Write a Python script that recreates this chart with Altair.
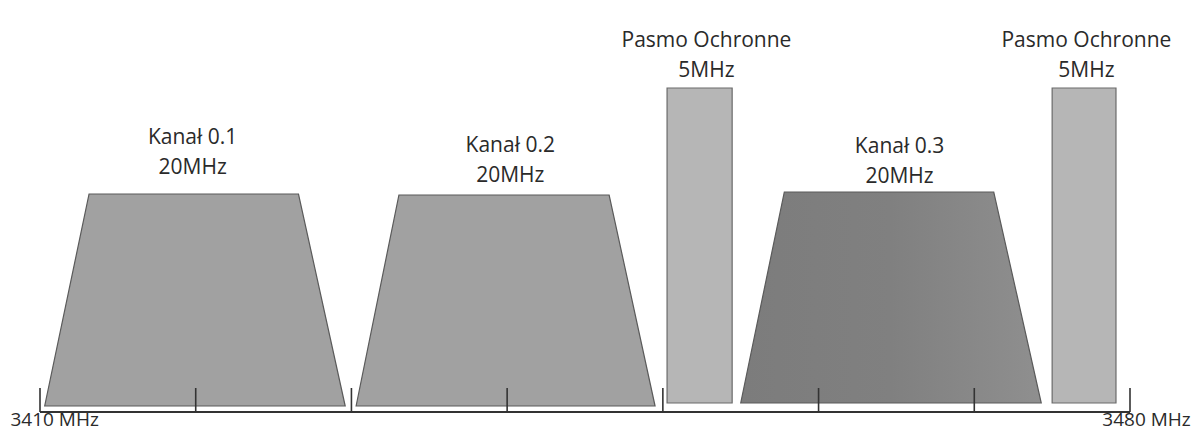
import altair as alt
import pandas as pd

# ---- data (frequencies in MHz, levels in relative height units) ----
chan_names = ["Kanał 0.1", "Kanał 0.2", "Kanał 0.3"]
chan_bottom_left = [3410.3, 3430.3, 3455.0]
chan_top_left = [3413.15, 3433.05, 3457.8]
chan_top_right = [3426.6, 3446.55, 3471.25]
chan_bottom_right = [3429.6, 3449.5, 3474.3]
chan_top = [218, 217, 220]
chan_bottom = [6, 6, 9]
chan_fill = ["#a1a1a1", "#a1a1a1", "#858585"]

guard_start = [3450.27, 3475.0]
guard_end = [3454.45, 3479.1]
guard_top = [324, 324]
guard_bottom = [9, 9]

tick_freqs = [3410, 3420, 3430, 3440, 3450, 3460, 3470, 3480]
tick_height = 24

label_text = ["Kanał 0.1\n20MHz", "Kanał 0.2\n20MHz", "Kanał 0.3\n20MHz",
              "Pasmo Ochronne\n5MHz", "Pasmo Ochronne\n5MHz"]
label_x = [3419.8, 3440.2, 3465.2, 3452.8, 3477.2]
label_y = [274, 266, 265, 371, 371]

edge_text = ["3410 MHz", "3480 MHz"]
edge_x = [3408.1, 3483.9]
edge_y = [-14, -14]
edge_align = ["left", "right"]

FONT = "Open Sans"

xs = alt.Scale(domain=[3410, 3480], range=[32, 1122], nice=False, zero=False)
ys = alt.Scale(domain=[-19, 404], range=[423, 0], nice=False, zero=False)

layers = []

# channel trapezoids
for i in range(3):
    pts = pd.DataFrame({
        "f": [chan_bottom_left[i], chan_top_left[i], chan_top_right[i], chan_bottom_right[i]],
        "lvl": [chan_bottom[i], chan_top[i], chan_top[i], chan_bottom[i]],
        "base": [chan_bottom[i]] * 4,
    })
    if i == 2:
        fill = alt.Gradient(
            gradient="linear",
            stops=[alt.GradientStop(color="#7c7c7c", offset=0),
                   alt.GradientStop(color="#808080", offset=0.5),
                   alt.GradientStop(color="#8f8f8f", offset=1)],
            x1=0, x2=1, y1=0, y2=0,
        )
    else:
        fill = chan_fill[i]
    layers.append(
        alt.Chart(pts).mark_area(fill=fill, stroke="#5a5a5a", strokeWidth=1.2,
                                 interpolate="linear", opacity=1)
        .encode(x=alt.X("f:Q", scale=xs, axis=None),
                y=alt.Y("lvl:Q", scale=ys, axis=None),
                y2="base:Q")
    )

# guard bands
guard_df = pd.DataFrame({"x0": guard_start, "x1": guard_end,
                         "top": guard_top, "bot": guard_bottom})
layers.append(
    alt.Chart(guard_df).mark_rect(fill="#b6b6b6", stroke="#6a6a6a", strokeWidth=1.2)
    .encode(x=alt.X("x0:Q", scale=xs, axis=None), x2="x1:Q",
            y=alt.Y("top:Q", scale=ys, axis=None), y2="bot:Q")
)

# baseline
base_df = pd.DataFrame({"a": [tick_freqs[0]], "b": [tick_freqs[-1]], "l": [0]})
layers.append(
    alt.Chart(base_df).mark_rule(color="#333333", strokeWidth=2)
    .encode(x=alt.X("a:Q", scale=xs, axis=None), x2="b:Q",
            y=alt.Y("l:Q", scale=ys, axis=None))
)

# ticks
tick_df = pd.DataFrame({"f": tick_freqs, "l0": [0] * len(tick_freqs),
                        "l1": [tick_height] * len(tick_freqs)})
layers.append(
    alt.Chart(tick_df).mark_rule(color="#333333", strokeWidth=1.6)
    .encode(x=alt.X("f:Q", scale=xs, axis=None),
            y=alt.Y("l0:Q", scale=ys, axis=None), y2="l1:Q")
)

# labels
lab_df = pd.DataFrame({"t": label_text, "f": label_x, "l": label_y})
layers.append(
    alt.Chart(lab_df).mark_text(font=FONT, fontSize=21, color="#2a2a2a",
                                align="center", baseline="middle",
                                lineBreak="\n", lineHeight=30)
    .encode(x=alt.X("f:Q", scale=xs, axis=None),
            y=alt.Y("l:Q", scale=ys, axis=None), text="t:N")
)

# edge frequency labels
for t, f, l, a in zip(edge_text, edge_x, edge_y, edge_align):
    edf = pd.DataFrame({"t": [t], "f": [f], "l": [l]})
    layers.append(
        alt.Chart(edf).mark_text(font=FONT, fontSize=19, color="#2a2a2a",
                                 align=a, baseline="alphabetic")
        .encode(x=alt.X("f:Q", scale=xs, axis=None),
                y=alt.Y("l:Q", scale=ys, axis=None), text="t:N")
    )

chart = alt.layer(*layers).properties(
    width=1188, height=423,
    autosize=alt.AutoSizeParams(type="none"),
    padding=0,
    background="white",
).configure_view(stroke=None)

chart.save("out.html", embed_options={"renderer": "svg", "actions": False})
